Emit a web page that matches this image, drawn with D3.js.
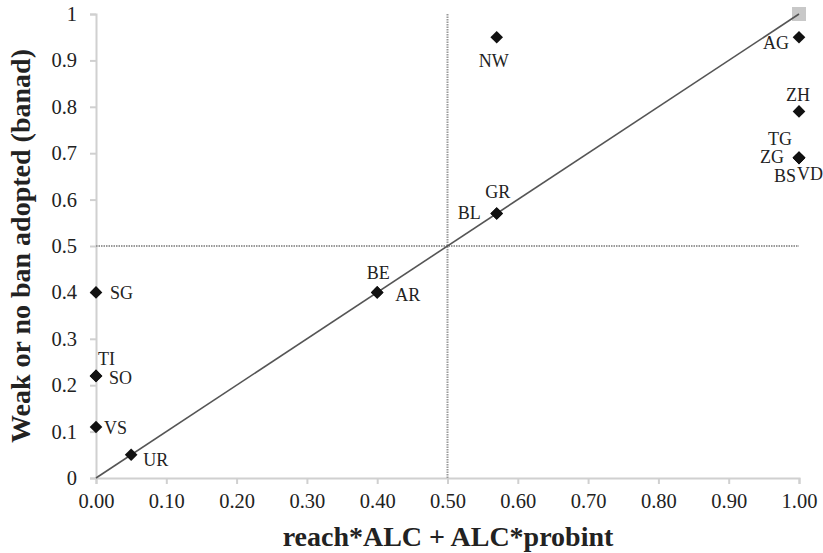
<!DOCTYPE html>
<html><head><meta charset="utf-8">
<script src="https://cdn.jsdelivr.net/npm/d3@7"></script>
</head><body>
<script>
const cantons = ["AG","ZH","TG","ZG","BS","VD","NW","GR","BL","BE","AR","SG","TI","SO","VS","UR"];
const xValues = [1.00,1.00,1.00,1.00,1.00,1.00,0.57,0.57,0.57,0.40,0.40,0.00,0.00,0.00,0.00,0.05];
const yValues = [0.95,0.79,0.69,0.69,0.69,0.69,0.95,0.57,0.57,0.40,0.40,0.40,0.22,0.22,0.11,0.05];
// label offsets in px relative to point, and anchor
const labelDx = [-10,-1,-7,-15,-3,-2,-3,1,-16,1,18,14,2,13,8,12];
const labelDy = [5,-17,-19,-1,18,16,23,-22,-1,-20,2,0,-17,2,1,5];
const labelAnchor = ["end","middle","end","end","end","start","middle","middle","end","middle","start","start","start","start","start","start"];
const xTicks = [0,0.1,0.2,0.3,0.4,0.5,0.6,0.7,0.8,0.9,1.0];
const yTicks = [0,0.1,0.2,0.3,0.4,0.5,0.6,0.7,0.8,0.9,1];
const xTitle = "reach*ALC + ALC*probint";
const yTitle = "Weak or no ban adopted (banad)";

const W=823,H=553;
const fontOf=()=>"'Liberation Serif', 'Times New Roman', 'Tinos', serif";
d3.select("body").style("margin","0px");
const svg=d3.select("body").append("svg").attr("width",W).attr("height",H)
  .style("display","block").style("font-family",fontOf());
const x=d3.scaleLinear().domain([0,1]).range([96,799]);
const y=d3.scaleLinear().domain([0,1]).range([478,14]);
const axisCol="#d0d0d0";

// axes
const xa=svg.append("g").attr("transform",`translate(0,${y(0)})`)
  .call(d3.axisBottom(x).tickValues(xTicks).tickFormat(d3.format(".2f")).tickSizeOuter(0).tickSize(6).tickPadding(9));
const ya=svg.append("g").attr("transform",`translate(${x(0)},0)`)
  .call(d3.axisLeft(y).tickValues(yTicks).tickFormat(d=>d===0?"0":d===1?"1":d3.format(".1f")(d)).tickSizeOuter(0).tickSize(6).tickPadding(13));
[xa,ya].forEach(a=>{
  a.attr("font-family",null).style("font-family",fontOf);
  a.selectAll("path,line").attr("stroke",axisCol).attr("stroke-width",2);
  a.selectAll("text").style("font-family",fontOf).attr("font-size",20.5).attr("fill","#222");
});
xa.selectAll("text").attr("dy","0.72em");

// reference lines
svg.append("line").attr("x1",x(0.5)).attr("x2",x(0.5)).attr("y1",y(1)).attr("y2",y(0))
  .attr("stroke","#999").attr("stroke-width",2).attr("stroke-dasharray","1.5,1");
svg.append("line").attr("x1",x(0)).attr("x2",x(1)).attr("y1",y(0.5)).attr("y2",y(0.5))
  .attr("stroke","#999").attr("stroke-width",2).attr("stroke-dasharray","1.5,1");

// top-right grey marker
svg.append("rect").attr("x",x(1)-7).attr("y",y(1)-7).attr("width",14).attr("height",14).attr("fill","#c8c8c8");

// diagonal
svg.append("line").attr("x1",x(0)).attr("y1",y(0)).attr("x2",x(1)).attr("y2",y(1))
  .attr("stroke","#555").attr("stroke-width",1.6);

// points
const sym=d3.symbol().type(d3.symbolSquare).size(80);
svg.append("g").selectAll("path").data(cantons).join("path")
  .attr("d",sym).attr("fill","#111")
  .attr("transform",(d,i)=>`translate(${x(xValues[i])},${y(yValues[i])}) rotate(45)`);

// labels
svg.append("g").selectAll("text").data(cantons).join("text")
  .attr("x",(d,i)=>x(xValues[i])+labelDx[i]).attr("y",(d,i)=>y(yValues[i])+labelDy[i])
  .attr("dy","0.35em").attr("text-anchor",(d,i)=>labelAnchor[i])
  .style("font-family",fontOf).attr("font-size",18).attr("fill","#222").text(d=>d);

// titles
svg.append("text").attr("x",448).attr("y",546).attr("text-anchor","middle")
  .style("font-family",fontOf).attr("font-weight","bold").attr("font-size",28).attr("fill","#222").text(xTitle);
svg.append("text").attr("transform","translate(30,246) rotate(-90)").attr("text-anchor","middle")
  .style("font-family",fontOf).attr("font-weight","bold").attr("font-size",28).attr("fill","#222").text(yTitle);
</script>
</body></html>
